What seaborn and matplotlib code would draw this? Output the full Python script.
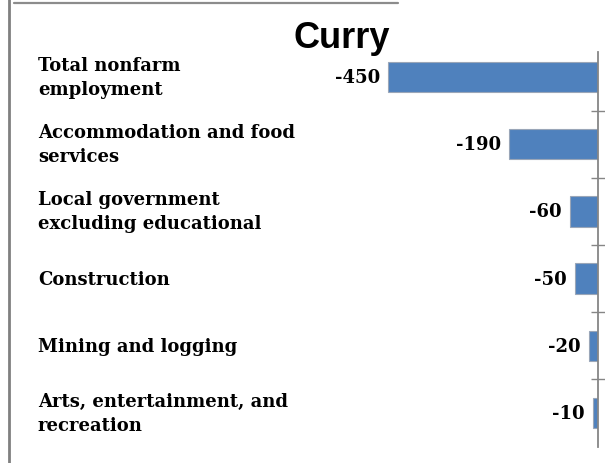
import matplotlib
matplotlib.use("Agg")
import matplotlib.pyplot as plt
import matplotlib.transforms as mtransforms
from matplotlib.lines import Line2D
import seaborn as sns
import pandas as pd

title = "Curry"
categories = [
    "Total nonfarm\nemployment",
    "Accommodation and food\nservices",
    "Local government\nexcluding educational",
    "Construction",
    "Mining and logging",
    "Arts, entertainment, and\nrecreation",
]
values = [-450, -190, -60, -50, -20, -10]

df = pd.DataFrame({"category": categories, "value": values})

sns.set_theme(style="white")
plt.rcParams["font.family"] = ["DejaVu Serif"]
plt.rcParams["text.color"] = "black"

W, H = 605, 464
fig = plt.figure(figsize=(W / 100, H / 100), dpi=100)
ax_left, ax_right = 337, 598
ax_top, ax_bot = 44.4, 447.6
ax = fig.add_axes([ax_left / W, 1 - ax_bot / H, (ax_right - ax_left) / W, (ax_bot - ax_top) / H])

sns.barplot(data=df, x="value", y="category", orient="h", color="#4F81BD",
            width=0.45, edgecolor="#9AA6B8", linewidth=0.8, saturation=1, ax=ax)

ax.set_xlim(-560, 0)
ax.set_ylim(len(categories) - 0.5, -0.5)
ax.set_xlabel("")
ax.set_ylabel("")
ax.set_xticks([])
for s in ["top", "bottom", "left"]:
    ax.spines[s].set_visible(False)
ax.spines["right"].set_visible(True)
ax.spines["right"].set_color("#868686")
ax.spines["right"].set_linewidth(1.3)
ax.spines["right"].set_bounds(-0.37, len(categories) - 0.5)
ax.yaxis.set_ticks_position("right")
ax.set_yticks([i + 0.5 for i in range(len(categories) - 1)])
ax.set_yticklabels([])
ax.tick_params(axis="y", direction="inout", length=9.4, width=1, color="#868686", right=True, left=False)
ax.set_facecolor("none")

# value labels
for i, v in enumerate(values):
    ax.annotate(f"{v}", xy=(v, i), xytext=(-6, 0), textcoords="offset points",
                ha="right", va="center", fontsize=13, fontweight="bold", color="black",
                family="DejaVu Serif")

# category labels
trans = mtransforms.blended_transform_factory(fig.transFigure, ax.transData)
for i, c in enumerate(categories):
    fig.text(38 / W, i, c, transform=trans, ha="left", va="center", multialignment="left",
             fontsize=13, fontweight="bold", linespacing=1.42, family="DejaVu Serif",
             color="black")

# title
fig.text(342 / W, 1 - 48 / H, title, ha="center", va="baseline", fontsize=26,
         fontweight="bold", family="Liberation Sans", color="black")

# chart border fragments
fig.add_artist(Line2D([9 / W, 9 / W], [0, 1], transform=fig.transFigure, color="#808080", linewidth=2))
fig.add_artist(Line2D([14 / W, 398 / W], [1 - 4 / H, 1 - 4 / H], transform=fig.transFigure,
                      color="#8C8C8C", linewidth=1.6))

fig.savefig("out.png", dpi=100)
